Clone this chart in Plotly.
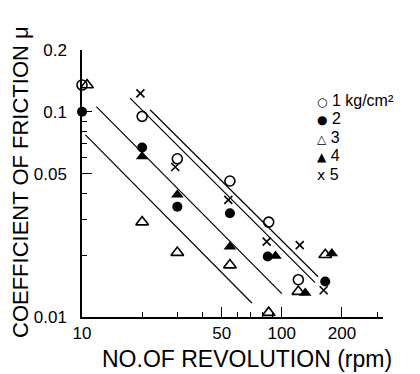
import plotly.graph_objects as go
import numpy as np

# ---- data ----
rpm_1 = [10, 20, 30, 55, 86, 121]
mu_1 = [0.135, 0.095, 0.059, 0.046, 0.029, 0.0152]
rpm_2 = [10, 20, 30, 55, 85, 165]
mu_2 = [0.100, 0.067, 0.0345, 0.032, 0.0197, 0.0149]
rpm_3 = [10.6, 20, 30, 55, 86, 121, 165]
mu_3 = [0.135, 0.029, 0.0206, 0.0179, 0.0105, 0.0133, 0.0201]
rpm_4 = [20, 30, 55, 93, 131, 178]
mu_4 = [0.0605, 0.0394, 0.022, 0.0198, 0.0131, 0.0204]
rpm_5 = [19.6, 29.3, 54, 84, 123, 162]
mu_5 = [0.123, 0.0538, 0.0372, 0.0233, 0.0224, 0.0135]

series_names = ["1 kg/cm²", "2", "3", "4", "5"]
legend_glyphs = ["○", "●", "△", "▲", "x"]

line_a_x = [10.4, 70.8]
line_a_y = [0.0772, 0.0117]
line_b_x = [11.8, 100]
line_b_y = [0.106, 0.0130]
line_c_x = [17.4, 146.7]
line_c_y = [0.1166, 0.0147]
line_d_x = [21.9, 152]
line_d_y = [0.1023, 0.0157]

x_tickvals = [10, 50, 100, 200]
x_ticktext = ["10", "50", "100", "200"]
x_minor = [20, 30, 40, 60, 70, 80, 90, 300]
y_tickvals = [0.01, 0.05, 0.1, 0.2]
y_ticktext = ["0.01", "0.05", "0.1", "0.2"]
y_minor = [0.02, 0.03, 0.04, 0.06, 0.07, 0.08, 0.09]

x_title = "NO.OF REVOLUTION (rpm)"
y_title = "COEFFICIENT OF FRICTION μ"

FONT = "Liberation Sans"
OFF = 8  # page body margin
W, H = 420 - OFF, 374 - OFF
ML, MT = 82 - OFF, 50 - OFF
MR, MB = W - (383 - OFF), H - (317 - OFF)
PW, PH = W - ML - MR, H - MT - MB


def px_x(p):
    return (p - 82) / PW


def px_y(p):
    return (317 - p) / PH


fig = go.Figure()

for lx, ly in [(line_a_x, line_a_y), (line_b_x, line_b_y),
               (line_c_x, line_c_y), (line_d_x, line_d_y)]:
    fig.add_trace(go.Scatter(x=lx, y=ly, mode="lines",
                             line=dict(color="black", width=1.2),
                             showlegend=False, hoverinfo="skip"))

styles = [
    dict(symbol="circle-open", size=10, color="black", line=dict(width=1.6, color="black")),
    dict(symbol="circle", size=10, color="black", line=dict(width=0)),
    dict(symbol="triangle-up-open", size=11, color="black", line=dict(width=1.6, color="black")),
    dict(symbol="triangle-up", size=11, color="black", line=dict(width=0)),
    dict(symbol="x-thin-open", size=8, color="black", line=dict(width=1.6, color="black")),
]
for xs, ys, name, st in zip([rpm_1, rpm_2, rpm_3, rpm_4, rpm_5],
                            [mu_1, mu_2, mu_3, mu_4, mu_5],
                            series_names, styles):
    fig.add_trace(go.Scatter(x=xs, y=ys, mode="markers", name=name,
                             marker=st, cliponaxis=False, showlegend=False))

annotations = []
# legend drawn as text rows (symbol + label)
legend_rows_px = [100, 118.5, 137, 155.5, 174]
for glyph, name, py in zip(legend_glyphs, series_names, legend_rows_px):
    gsize = 14 if glyph == "x" else 12
    txt = ('<span style="font-family:DejaVu Sans;font-size:%dpx">%s</span> %s'
           % (gsize, glyph, name))
    annotations.append(dict(xref="paper", yref="paper", x=px_x(316), y=px_y(py),
                            text=txt, showarrow=False, xanchor="left", yanchor="middle",
                            borderpad=0, font=dict(size=16, family=FONT)))
# axis titles
annotations.append(dict(xref="paper", yref="paper", x=px_x(247), y=px_y(359),
                        text=x_title, showarrow=False, xanchor="center", yanchor="middle",
                        borderpad=0, font=dict(size=23, family=FONT)))
annotations.append(dict(xref="paper", yref="paper", x=px_x(20), y=px_y(182),
                        text=y_title, showarrow=False, xanchor="center", yanchor="middle",
                        borderpad=0, textangle=-90, font=dict(size=22, family=FONT)))

fig.update_layout(
    width=W, height=H,
    margin=dict(l=ML, r=MR, t=MT, b=MB, pad=0),
    paper_bgcolor="white", plot_bgcolor="white",
    font=dict(family=FONT, color="black"),
    showlegend=False,
    annotations=annotations,
    xaxis=dict(type="log", range=[1, np.log10(321)], automargin=False,
               showline=True, linecolor="black", linewidth=1.5,
               showgrid=False, zeroline=False, mirror=False,
               tickmode="array", tickvals=x_tickvals, ticktext=x_ticktext,
               ticks="inside", ticklen=10, tickwidth=1.3, tickcolor="black",
               minor=dict(tickmode="array", tickvals=x_minor, ticks="inside",
                          ticklen=5, tickwidth=1.3, tickcolor="black", showgrid=False),
               tickfont=dict(size=17, family=FONT), ticklabelstandoff=0),
    yaxis=dict(type="log", range=[-2, np.log10(0.2)], automargin=False,
               showline=True, linecolor="black", linewidth=1.5,
               showgrid=False, zeroline=False, mirror=False,
               tickmode="array", tickvals=y_tickvals, ticktext=y_ticktext,
               ticks="inside", ticklen=10, tickwidth=1.3, tickcolor="black",
               minor=dict(tickmode="array", tickvals=y_minor, ticks="inside",
                          ticklen=5, tickwidth=1.3, tickcolor="black", showgrid=False),
               tickfont=dict(size=17, family=FONT), ticklabelstandoff=10),
)

fig.write_html("out.html")
